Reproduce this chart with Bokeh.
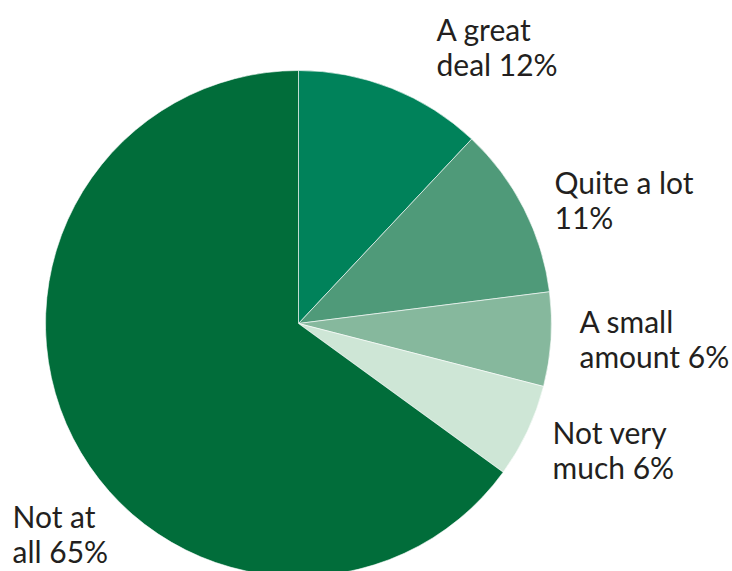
import math
from bokeh.plotting import figure
from bokeh.models import Range1d, ColumnDataSource
from bokeh.core.properties import value
from bokeh.embed import file_html
from bokeh.resources import INLINE

# Data
categories = ["A great deal", "Quite a lot", "A small amount", "Not very much", "Not at all"]
values = [12, 11, 6, 6, 65]
colors = ["#00825A", "#4F9A79", "#86B89D", "#CEE6D6", "#016D3A"]
line1 = ["A great", "Quite a lot", "A small", "Not very", "Not at"]
line2_prefix = ["deal ", "", "amount ", "much ", "all "]

W, H = 732, 571
p = figure(width=W, height=H, output_backend="svg", toolbar_location=None,
           x_axis_type=None, y_axis_type=None, min_border=0,
           x_range=Range1d(0, W), y_range=Range1d(0, H))
p.outline_line_color = None
p.grid.visible = False
p.background_fill_color = "white"

# pie layout (pixel space, y measured from top)
cx, cy, r = 298, 323, 253

total = sum(values)
starts, ends = [], []
c = 0.0
for v in values:
    c0 = c
    c += v / total
    starts.append(math.pi / 2 - 2 * math.pi * c)
    ends.append(math.pi / 2 - 2 * math.pi * c0)

src = ColumnDataSource(dict(start=starts, end=ends, color=colors, cat=categories))
p.wedge(x=cx, y=H - cy, radius=r, start_angle="start", end_angle="end",
        fill_color="color", line_color="white", line_width=0.6, source=src,
        direction="anticlock")

# label positions (left x, first baseline y from top)
lab_x = [436, 554, 579, 552, 12]
lab_y = [28, 181, 320, 431, 515]
spacing = 35

t1 = line1
t2 = [f"{pre}{v}%" for pre, v in zip(line2_prefix, values)]
ys1 = [H - y for y in lab_y]
ys2 = [H - (y + spacing) for y in lab_y]
for texts, ys in ((t1, ys1), (t2, ys2)):
    p.text(x=lab_x, y=ys, text=texts, text_font=value("Lato"),
           text_font_size="30px", text_color="#231F20",
           text_align="left", text_baseline="alphabetic")

open("out.html", "w").write(file_html(p, INLINE))
